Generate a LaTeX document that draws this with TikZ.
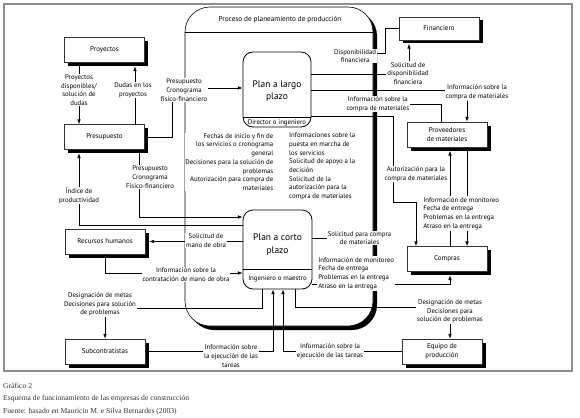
\documentclass[tikz,border=0pt]{standalone}
\usepackage{fontspec}
\setmainfont{PT Sans}
\newfontfamily\capfont{Liberation Serif}
\usepackage{tikz}
\usetikzlibrary{positioning, arrows.meta, shadows, calc}

\begin{document}
\begin{tikzpicture}[x=1pt, y=-1pt,
        caja/.style={draw=black!80, fill=white, line width=0.5pt,
                     minimum width=80pt, minimum height=25pt, inner sep=1pt,
                     align=center, font=\fontsize{7}{8.6}\selectfont,
                     drop shadow={shadow xshift=3.5pt, shadow yshift=-3.5pt,
                                  fill=black, opacity=1}},
        plan/.style={draw, fill=white, rounded corners=10pt, line width=0.8pt,
                     minimum width=68pt, minimum height=75pt},
        arr/.style={-{Latex[length=4.8pt, width=3.6pt]}, line width=0.7pt},
        lin/.style={line width=0.7pt},
        lbl/.style={fill=white, inner sep=1pt, align=center,
                    font=\fontsize{6.8}{8.7}\selectfont},
        leyenda/.style={anchor=west, inner sep=0pt, text=black!80,
                    font=\capfont\fontsize{7.6}{9}\selectfont}
    ]
    \useasboundingbox (0,0) rectangle (580,417);
    % Frame
    \draw[black!45, line width=1.3pt] (4,4) rectangle (572,371);
    % Planning process
    \fill[black, rounded corners=25pt] (189,11) rectangle (377,330);
    \draw[fill=white, rounded corners=25pt, line width=0.6pt] (185,7) rectangle (373,326);
    \draw[line width=0.6pt] (185,32) -- (373,32);
    \node[font=\fontsize{7.2}{8.7}\selectfont] (proc) at (280,20) {Proceso de planeamiento de producción};
    % Agents
    \node[caja] (proy) at (104.5,50) {Proyectos};
    \node[caja] (presu) at (104.5,137) {Presupuesto};
    \node[caja] (rrhh) at (105,241.5) {Recursos humanos};
    \node[caja] (subc) at (105,351.5) {Subcontratistas};
    \node[caja, minimum height=23pt] (fin) at (439,28.5) {Financiero};
    \node[caja] (prov) at (447,134.5) {Proveedores\\de materiales};
    \node[caja] (comp) at (447,259) {Compras};
    \node[caja] (equi) at (442,351.5) {Equipo de\\producción};
    % Plans
    \node[plan] (plargo) at (277,89.5) {};
    \node[font=\fontsize{9.5}{12.5}\selectfont, align=center] (plargoT) at (277,91) {Plan a largo\\plazo};
    \draw[line width=0.5pt] (plargo.west |- 0,117) -- (plargo.east |- 0,117);
    \node[lbl, fill=none] (plargoR) at (277,122.5) {Director o ingeniero};
    \node[plan, minimum width=69pt, minimum height=79pt] (pcorto) at (277.5,249.5) {};
    \node[font=\fontsize{9.5}{12.5}\selectfont, align=center] (pcortoT) at (277.5,244.5) {Plan a corto\\plazo};
    \draw[line width=0.5pt] (pcorto.west |- 0,269) -- (pcorto.east |- 0,269);
    \node[lbl, fill=none] (pcortoR) at (277.5,279) {Ingeniero o maestro};
    % Left side flows
    \draw[arr] ([xshift=-25.5pt]proy.south) -- ([xshift=-25.5pt]presu.north)
        node[lbl] (lproy) at (79,90) {Proyectos\\disponibles/\\solución de\\dudas};
    \draw[arr] ([xshift=30.5pt]presu.north) -- ([xshift=30.5pt, yshift=-3.5pt]proy.south)
        node[lbl] (ldudas) at (133,90) {Dudas en los\\proyectos};
    \draw[arr] (presu.east) -| (172,88) -- (plargo.west |- 0,88)
        node[lbl] (lpres1) at (184,90) {Presupuesto\\Cronograma\\físico-financiero};
    \draw[arr] ([xshift=34.5pt]presu.south) |- (pcorto.west |- 0,217)
        node[lbl] (lpres2) at (150,177) {Presupuesto\\Cronograma\\Físico-financiero};
    \draw[arr] (pcorto.west |- 0,225) -| ([xshift=-25.5pt, yshift=-3.5pt]presu.south)
        node[lbl] (lindice) at (79,195.5) {Índice de\\productividad};
    \draw[arr] (pcorto.west |- rrhh.east) -- ([xshift=4pt]rrhh.east)
        node[lbl] (lsolmo) at (206,240.5) {Solicitud de\\mano de obra};
    \draw[arr] (rrhh.south) |- (pcorto.west |- 0,273)
        node[lbl] (linfco) at (186,274.5) {Información sobre la\\contratación de mano de obra};
    % Bottom flows
    \draw[arr] ([xshift=-15.5pt]pcorto.south) |- (subc.north |- 0,308) -- (subc.north)
        node[lbl] (ldes1) at (100,304.5) {Designación de metas\\Decisiones para solución\\de problemas};
    \draw[arr] (subc.east) -| ([xshift=-4.5pt]pcorto.south)
        node[lbl] (lejec1) at (231,356) {Información sobre\\la ejecución de las\\tareas};
    \draw[arr] (equi.west) -| ([xshift=5.5pt]pcorto.south)
        node[lbl] (lejec2) at (330,351.5) {Información sobre la\\ejecución de las tareas};
    \draw[arr] ([xshift=17.5pt]pcorto.south) |- (450,307) -- ([xshift=8pt]equi.north)
        node[lbl] (ldes2) at (450,311.5) {Designación de metas\\Decisiones para\\solución de problemas};
    % Right side flows
    \draw[lin] (pcorto.east |- 0,238) -- (327,238)
        node[lbl, anchor=west, inner sep=0.5pt] (lsolcomp) {Solicitud para compra\\de materiales};
    \draw[arr] (pcorto.east |- 0,284) -| ([xshift=3pt, yshift=-3.5pt]comp.south)
        node[lbl, anchor=west, align=left] (lmon2) at (317,273.5)
        {Información de monitoreo\\Fecha de entrega\\Problemas en la entrega\\Atraso en la entrega};
    \draw[arr] (plargo.east |- 0,74) -| ([xshift=-30pt, yshift=-3.5pt]fin.south)
        node[lbl] (lsoldis) at (408,73.5) {Solicitud de\\disponibilidad\\financiera};
    \draw[lin] (fin.west) -| (385,53) -- (377,53)
        node[lbl, anchor=north east, inner sep=0.5pt] (ldisp) at (377,48.5) {Disponibilidad\\financiera};
    \draw[arr] (plargo.east |- 0,90) -| ([xshift=20pt]prov.north)
        node[lbl] (linfcm2) at (477,92.5) {Información sobre la\\compra de materiales};
    \draw[lin] ([xshift=-6pt]prov.north) |- (410,104)
        node[lbl, anchor=east, inner sep=0.5pt] (linfcm1) {Información sobre la\\compra de materiales};
    \draw[arr] (plargo.east |- 0,116) -| (393,202) -| ([xshift=-31pt]comp.north)
        node[lbl] (lautor) at (416,174) {Autorización para la\\compra de materiales};
    \draw[arr] ([xshift=20pt]prov.south) -- ([xshift=20pt]comp.north);
    \draw[arr] ([xshift=3pt]comp.north) -- ([xshift=3pt, yshift=-3.5pt]prov.south)
        node[lbl, anchor=west, align=left] (lmon1) at (422,213.5)
        {Información de monitoreo\\Fecha de entrega\\Problemas en la entrega\\Atraso en la entrega};
    % Between the plans
    \node[lbl, anchor=east, align=right, inner sep=0.5pt] (lfechas) at (274,162)
        {Fechas de inicio y fin de\\los servicios o cronograma\\general\\Decisiones para la solución de\\problemas\\Autorización para compra de\\materiales};
    \node[lbl, anchor=west, align=left] (linfos) at (288,166.5)
        {Informaciones sobre la\\puesta en marcha de\\los servicios\\Solicitud de apoyo a la\\decisión\\Solicitud de la\\autorización para la\\compra de materiales};
    % Caption
    \node[leyenda] (cap1) at (3,386) {Gráfico 2};
    \node[leyenda] (cap2) at (3,399) {Esquema de funcionamiento de las empresas de construcción};
    \node[leyenda] (cap3) at (3,412) {Fuente: basado en Maurício M. e Silva Bernardes (2003)};
\end{tikzpicture}
\end{document}
